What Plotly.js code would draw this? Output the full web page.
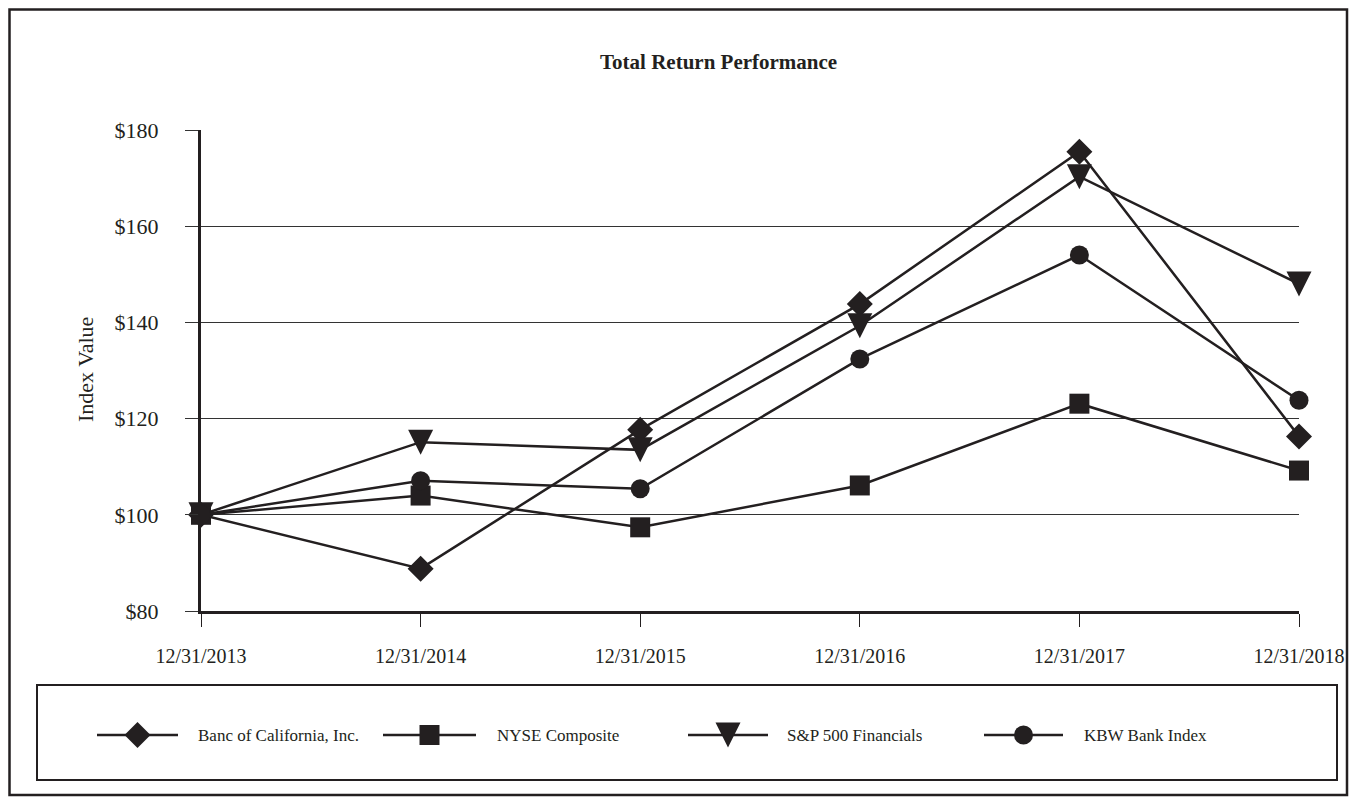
<!DOCTYPE html>
<html>
<head>
<meta charset="utf-8">
<script src="https://cdn.plot.ly/plotly-3.0.1.min.js"></script>
<style>html,body{margin:0;padding:0;background:#fff;}#chart{width:1356px;height:802px;}</style>
</head>
<body>
<div id="chart"></div>
<script>
// ---- data ----
const categories = ['12/31/2013', '12/31/2014', '12/31/2015', '12/31/2016', '12/31/2017', '12/31/2018'];
const banc = [100, 88.8, 117.7, 143.8, 175.5, 116.3];
const nyse = [100, 104.0, 97.4, 106.1, 123.1, 109.2];
const spFinancials = [100, 115.1, 113.5, 139.3, 170.3, 148.0];
const kbw = [100, 107.1, 105.4, 132.4, 154.0, 123.8];
const seriesNames = ['Banc of California, Inc.', 'NYSE Composite', 'S&P 500 Financials', 'KBW Bank Index'];
const yTickVals = [80, 100, 120, 140, 160, 180];
const yTickText = ['$80', '$100', '$120', '$140', '$160', '$180'];

// ---- styling / layout (pixels) ----
const W = 1356, H = 802;
const INK = '#231f20';
const FONT = 'Liberation Serif, Times New Roman, serif';
const plotL = 201, plotR = 1299, plotT = 130, plotB = 611;
const symbols = ['diamond', 'square', 'arrow-down', 'circle'];
const sizes = [20, 20, 25, 19];
const standoffs = [0, 0, 12.5, 0];
const seriesData = [banc, nyse, spFinancials, kbw];

const legY = 735;
const legLineStart = [97, 383, 688, 984];
const legLineEnd = [178, 476, 768, 1063];
const legTextX = [196, 495, 785, 1082];

const traces = [];
seriesData.forEach((vals, i) => {
  traces.push({
    type: 'scatter', mode: 'lines+markers', name: seriesNames[i],
    x: categories, y: vals, xaxis: 'x', yaxis: 'y',
    line: {color: INK, width: 2.5, backoff: 0},
    marker: {symbol: symbols[i], size: sizes[i], color: INK, standoff: standoffs[i], line: {width: 0}},
    cliponaxis: false, showlegend: false, hoverinfo: 'x+y+name'
  });
});
// custom legend glyphs (pixel coordinate overlay axes)
seriesData.forEach((vals, i) => {
  traces.push({
    type: 'scatter', mode: 'lines', x: [legLineStart[i], legLineEnd[i]], y: [legY, legY],
    xaxis: 'x2', yaxis: 'y2', line: {color: INK, width: 2.5, backoff: 0}, showlegend: false, hoverinfo: 'skip', cliponaxis: false
  });
  traces.push({
    type: 'scatter', mode: 'markers', x: [(legLineStart[i] + legLineEnd[i]) / 2], y: [legY],
    xaxis: 'x2', yaxis: 'y2',
    marker: {symbol: symbols[i], size: sizes[i], color: INK, standoff: standoffs[i], line: {width: 0}},
    showlegend: false, hoverinfo: 'skip', cliponaxis: false
  });
});

const annotations = [
  {xref: 'x2', yref: 'y2', x: 718, y: 62, text: '<b>Total Return Performance</b>', showarrow: false,
   font: {family: FONT, size: 21, color: INK}, xanchor: 'center', yanchor: 'middle'},
  {xref: 'x2', yref: 'y2', x: 85, y: 370, text: 'Index Value', textangle: -90, showarrow: false,
   font: {family: FONT, size: 22, color: INK}, xanchor: 'center', yanchor: 'middle'}
];
seriesNames.forEach((n, i) => {
  annotations.push({xref: 'x2', yref: 'y2', x: legTextX[i], y: legY, text: n, showarrow: false,
    font: {family: FONT, size: 17, color: INK}, xanchor: 'left', yanchor: 'middle'});
});

const layout = {
  width: W, height: H,
  margin: {l: 0, r: 0, t: 0, b: 0, pad: 0},
  paper_bgcolor: '#ffffff', plot_bgcolor: 'rgba(0,0,0,0)',
  showlegend: false,
  font: {family: FONT, color: INK},
  xaxis: {
    domain: [plotL / W, plotR / W], anchor: 'y', type: 'category', range: [0, 5],
    showgrid: false, zeroline: false, showline: true, linecolor: INK, linewidth: 2.5,
    ticks: 'outside', ticklen: 13, tickwidth: 1, tickcolor: INK,
    tickfont: {family: FONT, size: 20, color: INK}, ticklabelstandoff: 12, fixedrange: true
  },
  yaxis: {
    domain: [1 - plotB / H, 1 - plotT / H], anchor: 'x', range: [80, 180],
    tickvals: yTickVals, ticktext: yTickText,
    showgrid: true, gridcolor: '#333333', gridwidth: 1, zeroline: false,
    showline: true, linecolor: INK, linewidth: 3,
    ticks: 'outside', ticklen: 13, tickwidth: 1, tickcolor: '#333333',
    tickfont: {family: FONT, size: 22, color: INK}, ticklabelstandoff: 22, fixedrange: true
  },
  xaxis2: {domain: [0, 1], anchor: 'y2', range: [0, W], visible: false, fixedrange: true},
  yaxis2: {domain: [0, 1], anchor: 'x2', range: [H, 0], visible: false, fixedrange: true},
  shapes: [
    {type: 'rect', xref: 'x2', yref: 'y2', x0: 9.5, y0: 9.5, x1: 1347, y1: 795, line: {color: INK, width: 2.5}, fillcolor: 'rgba(0,0,0,0)'},
    {type: 'rect', xref: 'x2', yref: 'y2', x0: 37, y0: 685, x1: 1337, y1: 780, line: {color: INK, width: 2}, fillcolor: 'rgba(0,0,0,0)'}
  ],
  annotations: annotations
};

Plotly.newPlot('chart', traces, layout, {displayModeBar: false, staticPlot: true});
</script>
</body>
</html>
